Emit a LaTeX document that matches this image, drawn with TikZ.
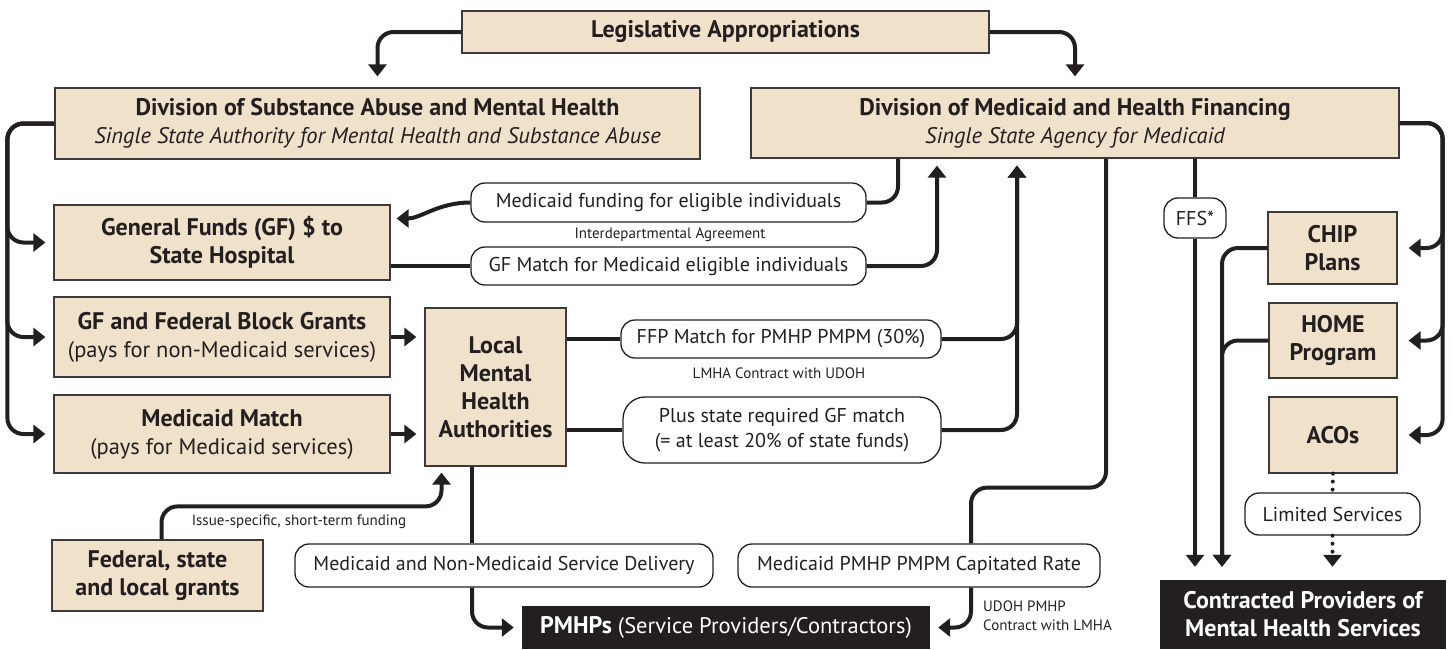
\documentclass[tikz,border=0pt]{standalone}
\usepackage{fontspec}
\setmainfont{PT Sans}
\usepackage{tikz}
\usepackage{xcolor}
\usetikzlibrary{arrows.meta}

\definecolor{tan}{RGB}{240,225,203}
\definecolor{ink}{RGB}{35,31,32}
\definecolor{edge}{RGB}{62,58,59}

\newcommand{\txtbig}{\fontsize{24}{28}\selectfont}
\newcommand{\txtsub}{\fontsize{22.5}{28}\selectfont}
\newcommand{\txtmid}{\fontsize{20}{25}\selectfont}
\newcommand{\txtsmall}{\fontsize{15}{19}\selectfont}

\tikzset{
    fundbox/.style={rectangle, draw=edge, fill=tan, line width=1.2pt, inner sep=0pt, align=center, text=ink, font=\txtbig\bfseries},
    darkbox/.style={rectangle, fill=ink, text=white, inner sep=0pt, align=center, font=\txtbig\bfseries},
    pill/.style={rectangle, draw=ink, fill=white, rounded corners=14pt, line width=1.3pt, inner sep=0pt, align=center, text=ink, font=\txtmid},
    note/.style={inner sep=0pt, text=ink, font=\txtsmall},
    flow/.style={draw=ink, line width=4pt, rounded corners=16pt},
    arr/.style={flow, -{Triangle[width=18pt,length=12pt]}, shorten >=8pt},
    dots/.style={draw=ink, line width=4pt, line cap=round, dash pattern=on 0pt off 8pt}
}

\begin{document}
\begin{tikzpicture}[x=1pt, y=-1pt]
            \useasboundingbox (0,0) rectangle (1452,649);

            \node[fundbox, minimum width=527pt, minimum height=42pt] (leg) at (725.5,32) {Legislative Appropriations};
            \node[fundbox, minimum width=645pt, minimum height=71pt] (dsamh) at (377.5,123.5) {Division of Substance Abuse and Mental Health\\{\txtsub\mdseries\itshape Single State Authority for Mental Health and Substance Abuse}};
            \node[fundbox, minimum width=648pt, minimum height=70pt] (dmhf) at (1075,123) {Division of Medicaid and Health Financing\\{\txtsub\mdseries\itshape Single State Agency for Medicaid}};
            \node[fundbox, minimum width=336pt, minimum height=75pt] (gfsh) at (222,242.5) {General Funds (GF) \$ to\\State Hospital};
            \node[fundbox, minimum width=336pt, minimum height=80pt] (gfbg) at (222,337) {GF and Federal Block Grants\\{\txtsub\mdseries (pays for non-Medicaid services)}};
            \node[fundbox, minimum width=336pt, minimum height=78pt] (mm) at (222,434) {Medicaid Match\\{\txtsub\mdseries (pays for Medicaid services)}};
            \node[fundbox, minimum width=141pt, minimum height=158pt] (lmha) at (495.5,387) {Local\\Mental\\Health\\Authorities};
            \node[fundbox, minimum width=211pt, minimum height=71pt] (fgr) at (157.5,575.5) {Federal, state\\and local grants};
            \node[fundbox, minimum width=129pt, minimum height=72pt] (chip) at (1332.5,248) {CHIP\\Plans};
            \node[fundbox, minimum width=128pt, minimum height=75pt] (home) at (1333,340.5) {HOME\\Program};
            \node[fundbox, minimum width=128pt, minimum height=76pt] (acos) at (1333,435) {ACOs};

            \node[pill, minimum width=395pt, minimum height=39pt] (fund) at (668.5,202.5) {Medicaid funding for eligible individuals};
            \node[pill, minimum width=395pt, minimum height=38pt] (gfm) at (668.5,266) {GF Match for Medicaid eligible individuals};
            \node[pill, minimum width=320pt, minimum height=38pt] (ffp) at (781,339) {FFP Match for PMHP PMPM (30\%)};
            \node[pill, rounded corners=22pt, minimum width=318pt, minimum height=66pt] (plus) at (782,430) {Plus state required GF match\\(= at least 20\% of state funds)};
            \node[pill, minimum width=418pt, minimum height=43pt] (sdel) at (504,565.5) {Medicaid and Non-Medicaid Service Delivery};
            \node[pill, minimum width=362pt, minimum height=43pt] (cap) at (919,565.5) {Medicaid PMHP PMPM Capitated Rate};
            \node[pill, minimum width=62pt, minimum height=40pt] (ffs) at (1195,218) {FFS*};
            \node[pill, minimum width=175pt, minimum height=42pt] (lim) at (1332.5,514) {Limited Services};

            \node[darkbox, minimum width=408pt, minimum height=43pt] (pmhp) at (726,627.5) {PMHPs {\txtsub\mdseries (Service Providers/Contractors)}};
            \node[darkbox, minimum width=286pt, minimum height=69pt] (cpmh) at (1303,614.5) {Contracted Providers of\\Mental Health Services};

            \node[note] (ida) at (670,235) {Interdepartmental Agreement};
            \node[note] (lmhacon) at (779,373) {LMHA Contract with UDOH};
            \node[note] (issue) at (299,522) {Issue-specific, short-term funding};
            \node[note, align=left, anchor=west] (udoh) at (983,615.5) {UDOH PMHP\\Contract with LMHA};

            \draw[arr, shorten >=11pt] (leg.west) -| (dsamh.north);
            \draw[arr, shorten >=11pt] (leg.east) -| (dmhf.north);

            \draw[arr] (dsamh.west) -- ++(-47,0) |- (gfsh.west);
            \draw[arr] (dsamh.west) -- ++(-47,0) |- (gfbg.west);
            \draw[arr] (dsamh.west) -- ++(-47,0) |- (mm.west);

            \draw[arr] (gfbg.east) -- (gfbg.east -| lmha.west);
            \draw[arr] (mm.east) -- (mm.east -| lmha.west);

            \draw[flow] ([xshift=-177pt]dmhf.south) |- (fund.east);
            \draw[arr, shorten >=6pt] (fund.west) .. controls +(-32,0) and +(30,0) .. ([yshift=24pt]gfsh.east);
            \draw[flow] (gfm.west -| gfsh.east) -- (gfm.west);
            \draw[arr, shorten >=7pt] (gfm.east) -| ([xshift=-138pt]dmhf.south);

            \draw[flow] (ffp.west -| lmha.east) -- (ffp.west);
            \draw[flow] (plus.west -| lmha.east) -- (plus.west);
            \draw[arr, shorten >=7pt] (ffp.east) -| ([xshift=-58pt]dmhf.south);
            \draw[arr, shorten >=7pt] (plus.east) -| ([xshift=-58pt]dmhf.south);

            \draw[arr, shorten >=6pt] ([xshift=4pt]fgr.north) -- ++(0,-33) -| ([xshift=-54pt]lmha.south);
            \draw[flow] ([xshift=-23.5pt]lmha.south) -- ([xshift=-23.5pt]lmha.south |- sdel.north);
            \draw[arr] ([xshift=-23.5pt]lmha.south |- sdel.south) |- (pmhp.west);

            \draw[flow] ([xshift=31pt]dmhf.south) -- ++(0,329) -| ([xshift=52pt]cap.north);
            \draw[arr] ([xshift=52pt]cap.south) |- (pmhp.east);

            \draw[flow] ([xshift=120pt]dmhf.south) -- (ffs.north);
            \draw[arr, shorten >=13pt] (ffs.south) -- (ffs.south |- cpmh.north);
            \draw[arr, shorten >=13pt] (chip.west) -| ([xshift=-81pt]cpmh.north);
            \draw[arr, shorten >=13pt] (home.west) -| ([xshift=-81pt]cpmh.north);

            \draw[arr, shorten >=11pt] (dmhf.east) -- ++(43,0) |- (chip.east);
            \draw[arr, shorten >=11pt] (dmhf.east) -- ++(43,0) |- (home.east);
            \draw[arr, shorten >=11pt] (dmhf.east) -- ++(43,0) |- (acos.east);

            \draw[dots] (acos.south) -- (lim.north);
            \draw[dots, -{Triangle[width=18pt,length=12pt]}, shorten >=13pt] (lim.south) -- (lim.south |- cpmh.north);
        \end{tikzpicture}
\end{document}
